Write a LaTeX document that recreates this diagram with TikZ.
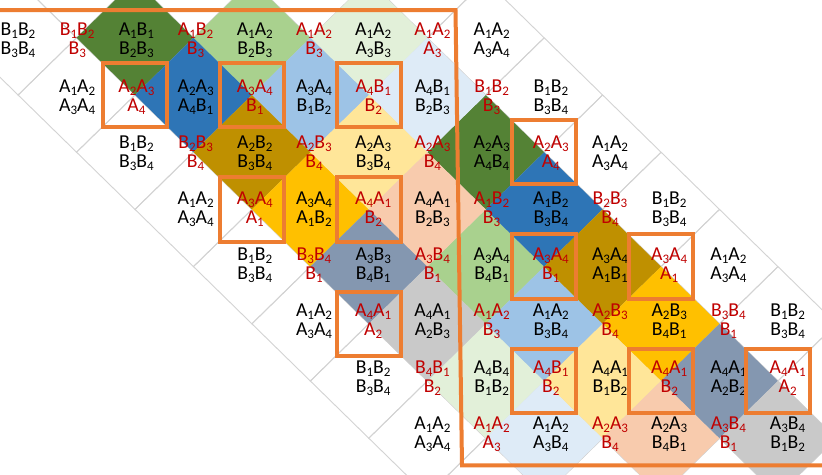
\documentclass[tikz,border=0pt]{standalone}
\usepackage{fontspec}
\setmainfont{Carlito}
\definecolor{dkgreen}{HTML}{548235}
\definecolor{ltgreen}{HTML}{A9D18E}
\definecolor{vlgreen}{HTML}{E2F0D9}
\definecolor{dblue}{HTML}{2E75B6}
\definecolor{ltblue}{HTML}{9DC3E6}
\definecolor{vlblue}{HTML}{DEEBF7}
\definecolor{dkgold}{HTML}{BF9000}
\definecolor{amber}{HTML}{FFC000}
\definecolor{ltyellow}{HTML}{FFE699}
\definecolor{peach}{HTML}{F8CBAD}
\definecolor{slate}{HTML}{8497B0}
\definecolor{lgray}{HTML}{C9C9C9}
\definecolor{redt}{HTML}{C00000}
\definecolor{orng}{HTML}{ED7D31}
\definecolor{gridc}{HTML}{D3D3D3}
\newcommand\sbs[1]{\raisebox{-3pt}{\fontsize{13}{13}\selectfont #1}}
\def\tokloop#1#2{\ifx#1\relax\else#1\sbs{#2}\expandafter\tokloop\fi}
\newcommand\tok[1]{\tokloop#1\relax\relax}
\newcommand\dout[2]{\draw[gridln] ({18.1+58.45*(#1-1)},{37.8+57.2*(#2)}) -- ({18.1+58.45*(#1)},{37.8+57.2*(#2-1)}) -- ({18.1+58.45*(#1+1)},{37.8+57.2*(#2)}) -- ({18.1+58.45*(#1)},{37.8+57.2*(#2+1)}) -- cycle;}
\newcommand\dfill[3]{\fill[#3] ({18.1+58.45*(#1-1)},{37.8+57.2*(#2)}) -- ({18.1+58.45*(#1)},{37.8+57.2*(#2-1)}) -- ({18.1+58.45*(#1+1)},{37.8+57.2*(#2)}) -- ({18.1+58.45*(#1)},{37.8+57.2*(#2+1)}) -- cycle;}
\newcommand\obox[2]{\node[obx] (b#1-#2) at ({18.1+58.45*(#1)},{37.8+57.2*(#2)}) {};}
\newcommand\BL[4]{\node[lb] (t#1-#2) at ({18+59.2*#1},{23.15+56.17*#2}) {\tok{#3}\\\tok{#4}};}
\newcommand\RL[4]{\node[lb,text=redt] (t#1-#2) at ({18+59.2*#1},{23.15+56.17*#2}) {\tok{#3}\\\tok{#4}};}
\begin{document}
\begin{tikzpicture}[x=1pt,y=-1pt,
  gridln/.style={draw=gridc,line width=0.9pt},
  obx/.style={draw=orng,line width=4pt,minimum width=64.5pt,minimum height=64.5pt,inner sep=0pt},
  lb/.style={anchor=north,inner sep=0pt,align=center,font=\fontsize{19.7}{19}\selectfont},
  frame/.style={draw=orng,line width=4pt}]
\useasboundingbox (0,0) rectangle (822,474);
\clip (0,0) rectangle (822,474);
\fill[white] (0,0) rectangle (822,474);
% grid outlines
\foreach \r in {-1,...,8}{
  \foreach \k in {0,2,4,6,8}{
    \pgfmathtruncatemacro\c{\r+\k}
    \dout{\c}{\r}
  }
}
% coloured cells
\dfill{2}{0}{dkgreen}  \dfill{8}{2}{dkgreen}
\dfill{4}{0}{ltgreen}  \dfill{8}{4}{ltgreen}
\dfill{6}{0}{vlgreen}  \dfill{8}{6}{vlgreen}
\dfill{3}{1}{dblue}    \dfill{9}{3}{dblue}
\dfill{5}{1}{ltblue}   \dfill{9}{5}{ltblue}
\dfill{7}{1}{vlblue}   \dfill{9}{7}{vlblue}
\dfill{4}{2}{dkgold}   \dfill{10}{4}{dkgold}
\dfill{5}{3}{amber}    \dfill{11}{5}{amber}
\dfill{6}{2}{ltyellow} \dfill{10}{6}{ltyellow}
\dfill{7}{3}{peach}    \dfill{11}{7}{peach}
\dfill{6}{4}{slate}    \dfill{12}{6}{slate}
\dfill{7}{5}{lgray}    \dfill{13}{7}{lgray}
% black labels
\BL{0}{0}{B1B2}{B3B4} \BL{2}{0}{A1B1}{B2B3} \BL{4}{0}{A1A2}{B2B3} \BL{6}{0}{A1A2}{A3B3} \BL{8}{0}{A1A2}{A3A4}
\BL{1}{1}{A1A2}{A3A4} \BL{3}{1}{A2A3}{A4B1} \BL{5}{1}{A3A4}{B1B2} \BL{7}{1}{A4B1}{B2B3} \BL{9}{1}{B1B2}{B3B4}
\BL{2}{2}{B1B2}{B3B4} \BL{4}{2}{A2B2}{B3B4} \BL{6}{2}{A2A3}{B3B4} \BL{8}{2}{A2A3}{A4B4} \BL{10}{2}{A1A2}{A3A4}
\BL{3}{3}{A1A2}{A3A4} \BL{5}{3}{A3A4}{A1B2} \BL{7}{3}{A4A1}{B2B3} \BL{9}{3}{A1B2}{B3B4} \BL{11}{3}{B1B2}{B3B4}
\BL{4}{4}{B1B2}{B3B4} \BL{6}{4}{A3B3}{B4B1} \BL{8}{4}{A3A4}{B4B1} \BL{10}{4}{A3A4}{A1B1} \BL{12}{4}{A1A2}{A3A4}
\BL{5}{5}{A1A2}{A3A4} \BL{7}{5}{A4A1}{A2B3} \BL{9}{5}{A1A2}{B3B4} \BL{11}{5}{A2B3}{B4B1} \BL{13}{5}{B1B2}{B3B4}
\BL{6}{6}{B1B2}{B3B4} \BL{8}{6}{A4B4}{B1B2} \BL{10}{6}{A4A1}{B1B2} \BL{12}{6}{A4A1}{A2B2}
\BL{7}{7}{A1A2}{A3A4} \BL{9}{7}{A1A2}{A3B4} \BL{11}{7}{A2A3}{B4B1} \BL{13}{7}{A3B4}{B1B2}
% red labels
\RL{1}{0}{B1B2}{B3} \RL{3}{0}{A1B2}{B3} \RL{5}{0}{A1A2}{B3} \RL{7}{0}{A1A2}{A3}
\RL{2}{1}{A2A3}{A4} \RL{4}{1}{A3A4}{B1} \RL{6}{1}{A4B1}{B2} \RL{8}{1}{B1B2}{B3}
\RL{3}{2}{B2B3}{B4} \RL{5}{2}{A2B3}{B4} \RL{7}{2}{A2A3}{B4} \RL{9}{2}{A2A3}{A4}
\RL{4}{3}{A3A4}{A1} \RL{6}{3}{A4A1}{B2} \RL{8}{3}{A1B2}{B3} \RL{10}{3}{B2B3}{B4}
\RL{5}{4}{B3B4}{B1} \RL{7}{4}{A3B4}{B1} \RL{9}{4}{A3A4}{B1} \RL{11}{4}{A3A4}{A1}
\RL{6}{5}{A4A1}{A2} \RL{8}{5}{A1A2}{B3} \RL{10}{5}{A2B3}{B4} \RL{12}{5}{B3B4}{B1}
\RL{7}{6}{B4B1}{B2} \RL{9}{6}{A4B1}{B2} \RL{11}{6}{A4A1}{B2} \RL{13}{6}{A4A1}{A2}
\RL{8}{7}{A1A2}{A3} \RL{10}{7}{A2A3}{B4} \RL{12}{7}{A3B4}{B1}
% orange boxes
\obox{2}{1} \obox{4}{1} \obox{6}{1} \obox{9}{2} \obox{4}{3} \obox{6}{3}
\obox{9}{4} \obox{11}{4} \obox{6}{5} \obox{9}{6} \obox{11}{6} \obox{13}{6}
% big frame
\coordinate (f1) at (-10,10);
\coordinate (f2) at (455.5,10);
\coordinate (f3) at (462,465.4);
\coordinate (f4) at (832,465.4);
\draw[frame] (f1) -- (f2) -- (f3) -- (f4);
\end{tikzpicture}
\end{document}
